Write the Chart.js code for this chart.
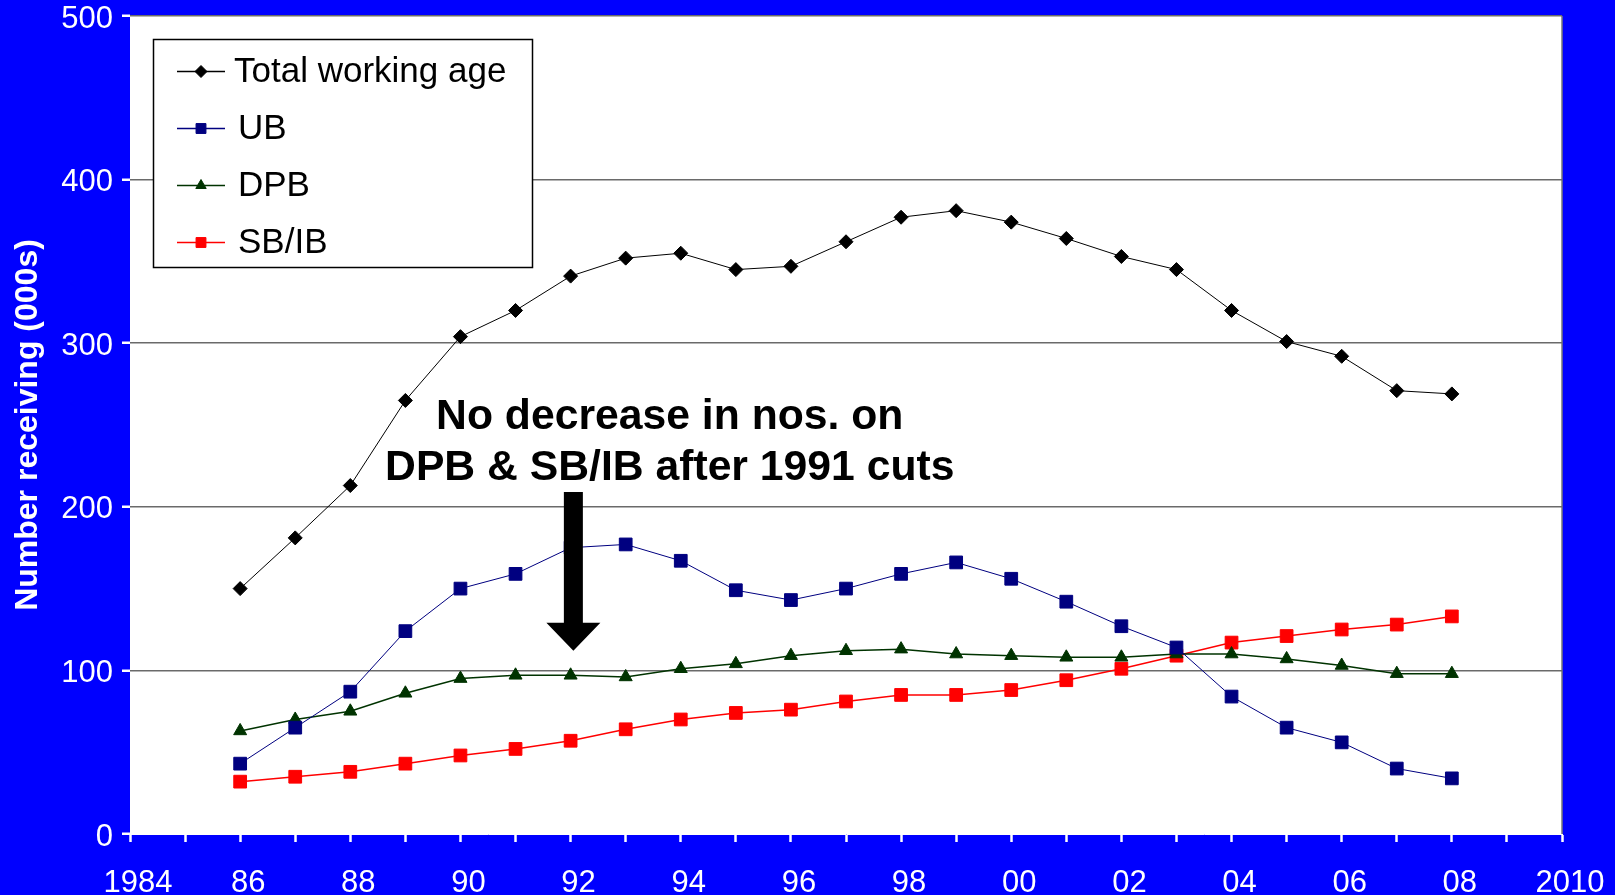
<!DOCTYPE html>
<html><head><meta charset="utf-8">
<script src="https://cdn.jsdelivr.net/npm/chart.js@4"></script>
<style>
html,body{margin:0;padding:0;background:#0000FF;overflow:hidden}
#wrap{width:1615px;height:895px;position:relative}
</style>
</head><body><div id="wrap"><canvas id="c" width="1615" height="895"></canvas></div>
<script>
// ---- data ----
const years = [1986,1987,1988,1989,1990,1991,1992,1993,1994,1995,1996,1997,1998,1999,2000,2001,2002,2003,2004,2005,2006,2007,2008];
const totalWorkingAge = [150,181,213,265,304,320,341,352,355,345,347,362,377,381,374,364,353,345,320,301,292,271,269];
const ub   = [43,65,87,124,150,159,175,177,167,149,143,150,159,166,156,142,127,114,84,65,56,40,34];
const dpb  = [63,70,75,86,95,97,97,96,101,104,109,112,113,110,109,108,108,110,110,107,103,98,98];
const sbib = [32,35,38,43,48,52,57,64,70,74,76,81,85,85,88,94,101,109,117,121,125,128,133];
const seriesNames = ['Total working age','UB','DPB','SB/IB'];
const xTickLabels = {1984:'1984',1986:'86',1988:'88',1990:'90',1992:'92',1994:'94',1996:'96',1998:'98',2000:'00',2002:'02',2004:'04',2006:'06',2008:'08',2010:'2010'};
const yTicks = [0,100,200,300,400,500];
const yTitle = 'Number receiving (000s)';
const noteLines = ['No decrease in nos. on','DPB & SB/IB after 1991 cuts'];
const noteAt = {x:1993.8, y:[255,223.5]};
const arrowAt = {x:1992.05, top:209, tip:112};

const FONT = '"Liberation Sans", Arial, Helvetica, sans-serif';
const pts = arr => years.map((y,i)=>({x:y,y:arr[i]}));

const styles = [
  {color:'#000000', fill:'#000000', pointStyle:'rectRot', radius:7, lw:1},
  {color:'#000080', fill:'#000080', pointStyle:'rect', radius:9, lw:1},
  {color:'#003300', fill:'#003300', pointStyle:'triangle', radius:7.5, lw:1.5},
  {color:'#FF0000', fill:'#FF0000', pointStyle:'rect', radius:9, lw:1.5}
];
const seriesData = [totalWorkingAge, ub, dpb, sbib];

const datasets = seriesData.map((d,i)=>({
  label: seriesNames[i],
  data: pts(d),
  borderColor: styles[i].color,
  backgroundColor: styles[i].fill,
  borderWidth: styles[i].lw,
  pointStyle: styles[i].pointStyle,
  pointRadius: styles[i].radius,
  pointBackgroundColor: styles[i].fill,
  pointBorderColor: styles[i].fill,
  pointBorderWidth: 1,
  tension: 0
}));

const bgPlugin = {
  id:'bg',
  beforeDraw(chart){
    const {ctx, chartArea:a} = chart;
    ctx.save();
    ctx.fillStyle = '#0000FF';
    ctx.fillRect(0,0,chart.width,chart.height);
    ctx.fillStyle = '#FFFFFF';
    ctx.fillRect(a.left,a.top,a.right-a.left,a.bottom-a.top);
    ctx.strokeStyle = '#777777';
    ctx.lineWidth = 1.5;
    ctx.beginPath();
    ctx.moveTo(a.right,a.top); ctx.lineTo(a.right,a.bottom);
    ctx.stroke();
    ctx.restore();
  }
};

const notePlugin = {
  id:'note',
  afterDatasetsDraw(chart){
    const {ctx, scales:{x,y}} = chart;
    ctx.save();
    const ax = x.getPixelForValue(arrowAt.x);
    const top = y.getPixelForValue(arrowAt.top);
    const tip = y.getPixelForValue(arrowAt.tip);
    const headH = 28, shaftW = 19, headW = 54;
    ctx.fillStyle = '#000000';
    ctx.beginPath();
    ctx.moveTo(ax-shaftW/2, top);
    ctx.lineTo(ax+shaftW/2, top);
    ctx.lineTo(ax+shaftW/2, tip-headH);
    ctx.lineTo(ax+headW/2, tip-headH);
    ctx.lineTo(ax, tip);
    ctx.lineTo(ax-headW/2, tip-headH);
    ctx.lineTo(ax-shaftW/2, tip-headH);
    ctx.closePath();
    ctx.fill();
    ctx.font = 'bold 42.7px ' + FONT;
    ctx.textAlign = 'center';
    ctx.textBaseline = 'middle';
    const tx = x.getPixelForValue(noteAt.x);
    noteLines.forEach((t,i)=>ctx.fillText(t, tx, y.getPixelForValue(noteAt.y[i])));
    ctx.restore();
  }
};

const legendPlugin = {
  id:'boxLegend',
  afterDraw(chart){
    const {ctx} = chart;
    const bx = 153.5, by = 39.5, bw = 379, bh = 228;
    ctx.save();
    ctx.fillStyle = '#FFFFFF';
    ctx.fillRect(bx,by,bw,bh);
    ctx.strokeStyle = '#000000';
    ctx.lineWidth = 1.5;
    ctx.strokeRect(bx,by,bw,bh);
    ctx.font = '35px ' + FONT;
    ctx.textBaseline = 'middle';
    ctx.textAlign = 'left';
    chart.data.datasets.forEach((ds,i)=>{
      const cy = by + 32 + i*57;
      ctx.strokeStyle = ds.borderColor;
      ctx.lineWidth = 1.5;
      ctx.beginPath(); ctx.moveTo(177,cy); ctx.lineTo(225,cy); ctx.stroke();
      ctx.fillStyle = ds.pointBackgroundColor;
      ctx.strokeStyle = ds.pointBorderColor;
      ctx.lineWidth = 1;
      Chart.helpers.drawPoint(ctx,{pointStyle:ds.pointStyle, radius: ds.pointStyle==='rect'?7:6, borderWidth:1}, 201, cy);
      ctx.fillStyle = '#000000';
      ctx.fillText(ds.label, i===0?234:238, cy+1);
    });
    ctx.restore();
  }
};

new Chart(document.getElementById('c'), {
  type:'line',
  data:{datasets},
  options:{
    responsive:false,
    animation:false,
    devicePixelRatio:1,
    layout:{padding:{left:0,top:16,right:53,bottom:0}},
    plugins:{legend:{display:false}, tooltip:{enabled:false}},
    scales:{
      x:{
        type:'linear', min:1984, max:2010,
        afterFit(s){ s.height = 61; s.paddingLeft = 0; s.paddingRight = 0; },
        border:{display:true,color:'#FFFFFF',width:1},
        grid:{drawOnChartArea:false, drawTicks:true, tickLength:8, tickColor:'#FFFFFF', tickWidth:2.5, color:'#FFFFFF'},
        ticks:{stepSize:1, autoSkip:false, maxRotation:0, padding:23, labelOffset:8, color:'#FFFFFF',
          font:{family:FONT,size:31},
          callback:v=> (xTickLabels[v] !== undefined ? xTickLabels[v] : '')}
      },
      y:{
        min:0, max:500,
        afterFit(s){ s.width = 130; s.paddingTop = 0; s.paddingBottom = 0; },
        afterBuildTicks(s){ s.ticks = yTicks.map(v=>({value:v})); },
        border:{display:false},
        grid:{drawTicks:true, tickLength:8, tickColor:'#FFFFFF', tickWidth:2.5,
          color:c=> (c.tick && (c.tick.value===0) ? 'rgba(0,0,0,0)' : '#6a6a6a'), lineWidth:1.5},
        ticks:{padding:9, labelOffset:3, color:'#FFFFFF', font:{family:FONT,size:31}},
        title:{display:true, text:yTitle, color:'#FFFFFF', font:{family:FONT,size:32,weight:'bold'}, padding:{top:9,bottom:0}}
      }
    }
  },
  plugins:[bgPlugin, notePlugin, legendPlugin]
});
</script>
</body></html>
